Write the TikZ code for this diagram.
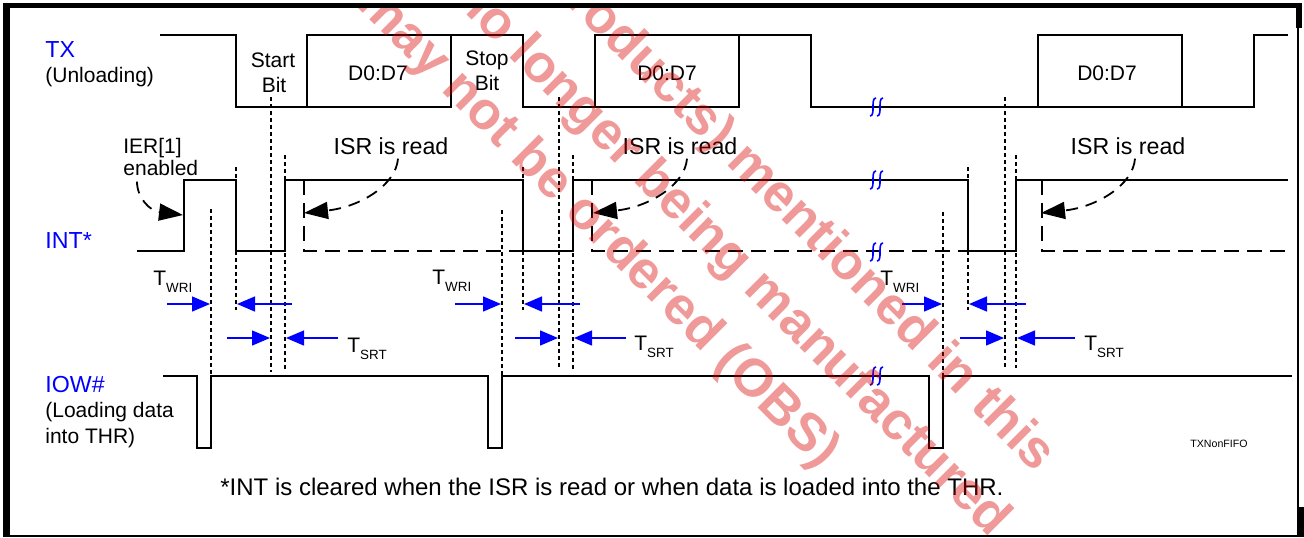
\documentclass[tikz,border=0pt]{standalone}
\usepackage{fontspec}
\setmainfont{Liberation Sans}
\usepackage{tikz}
\usetikzlibrary{arrows.meta,calc}
\usepackage{xcolor}
\definecolor{wmred}{RGB}{217,0,0}
\newcommand\tsub[1]{T\raisebox{-3.5pt}{\fontsize{6.7}{8}\selectfont #1}}

\begin{document}
\begin{tikzpicture}[
	x=0.5pt, y=-0.5pt,
	wave/.style={line width=1pt},
	guide/.style={line width=0.7pt, dash pattern=on 2pt off 1.5pt},
	cleared/.style={line width=1pt, dash pattern=on 7.5pt off 4pt},
	note/.style={line width=0.9pt, dash pattern=on 6pt off 4pt,
		-{Triangle[length=12pt,width=8.5pt]}},
	tm/.style={blue, line width=0.7pt, -{Triangle[length=9pt,width=7.5pt]}},
	txt/.style={inner sep=0, font=\fontsize{10.5}{12}\selectfont},
	sig/.style={inner sep=0, text=blue, font=\fontsize{11.6}{13}\selectfont},
	brk/.style={blue, line width=0.8pt},
	wm/.style={inner sep=0, rotate=-45, text=wmred, text opacity=0.4,
		font=\fontsize{26.5}{30}\selectfont\bfseries}
	]

	\useasboundingbox (0,0) rectangle (1304,537);

	% frame
	\fill (3,3) rectangle (10,537);
	\fill (3,3) rectangle (1302,8);
	\fill (1296,3) rectangle (1302,28);
	\fill (1297,507) rectangle (1304,537);
	\draw[line width=1pt] (10,536) -- (1297,536) (1297.5,28) -- (1297.5,507);

	% signal names
	\node[sig, anchor=base west] (tx) at (45,57) {TX};
	\node[txt, anchor=base west] (txnote) at (45,82) {(Unloading)};
	\node[sig, anchor=base west] (int) at (45,248) {INT*};
	\node[sig, anchor=base west] (iow) at (45,392) {IOW\#};
	\node[txt, anchor=base west] (iownoteA) at (45,417) {(Loading data};
	\node[txt, anchor=base west] (iownoteB) at (45,443) {into THR)};

	% TX
	\draw[wave] (160,35) -| (236,107) -| (307,35) -| (523,107) -| (595,35)
		-| (811,107) -| (1038,35) -| (1182,107) -| (1254,35) -- (1288,35);
	\draw[wave] (307,107) -- (451,107) -- (451,35)
		(595,107) -- (739,107) -- (739,35) (1038,107) -- (1182,107);
	\node[txt, anchor=base] (startA) at (273,67) {Start};
	\node[txt, anchor=base] (startB) at (274,92) {Bit};
	\node[txt, anchor=base] (stopA) at (487,65) {Stop};
	\node[txt, anchor=base] (stopB) at (487,90) {Bit};
	\node[txt, anchor=base] (byteA) at (378,80) {D0:D7};
	\node[txt, anchor=base] (byteB) at (667,80) {D0:D7};
	\node[txt, anchor=base] (byteC) at (1107,80) {D0:D7};

	% INT
	\draw[wave] (137,251) -| (184,180) -| (236,251) -| (285,180) -| (523,251)
		-| (573,180) -| (968,251) -| (1016,180) -- (1288,180);
	\draw[cleared] (304,180) |- (523,251) (592,180) |- (968,251) (1042,180) |- (1288,251);

	\node[txt, anchor=base west] (ierA) at (123,153) {IER[1]};
	\node[txt, anchor=base west] (ierB) at (123,175) {enabled};
	\coordinate (iertip) at (183,215);
	\draw[note] ($(ierB.south west)+(14,6)$) .. controls (137,198) and (150,211) .. (iertip);

	\foreach \n/\x in {A/391,B/680,C/1128}{
		\node[txt, font=\fontsize{11.6}{13}\selectfont, anchor=base] (isr\n) at (\x,154) {ISR is read};
		\coordinate (isrtip\n) at (\x-87,213);
		\draw[note] ($(isr\n.south)+(7,4)$) .. controls (\x+5,185) and (\x-31,207) .. (isrtip\n);
	}

	% IOW#
	\draw[wave] (163,376) -| (197,448) -| (211,376) -| (488,448) -| (502,376)
		-| (929,448) -| (943,376) -- (1292,376);

	% guides
	\draw[guide] (211,209) -- (211,380) (236,167) -- (236,310)
		(271,97) -- (271,372) (285,155) -- (285,372);
	\draw[guide] (502,210) -- (502,380) (523,167) -- (523,310)
		(559,97) -- (559,369) (573,155) -- (573,369);
	\draw[guide] (943,212) -- (943,392) (968,167) -- (968,310)
		(1005,97) -- (1005,368) (1016,155) -- (1016,368);

	% timing
	\draw[tm] (167,304) -- (210,304);
	\draw[tm] (292,304) -- (237,304);
	\draw[tm] (227,338) -- (270,338);
	\draw[tm] (338,338) -- (286,338);
	\draw[tm] (455,304) -- (501,304);
	\draw[tm] (580,304) -- (524,304);
	\draw[tm] (515,338) -- (558,338);
	\draw[tm] (626,338) -- (574,338);
	\draw[tm] (902,304) -- (942,304);
	\draw[tm] (1026,304) -- (969,304);
	\draw[tm] (960,338) -- (1004,338);
	\draw[tm] (1075,338) -- (1017,338);

	\node[txt, anchor=base west] (twriA) at (153,285) {\tsub{WRI}};
	\node[txt, anchor=base west] (twriB) at (432,284) {\tsub{WRI}};
	\node[txt, anchor=base west] (twriC) at (880,285) {\tsub{WRI}};
	\node[txt, anchor=base west] (tsrtA) at (347,352) {\tsub{SRT}};
	\node[txt, anchor=base west] (tsrtB) at (634,350) {\tsub{SRT}};
	\node[txt, anchor=base west] (tsrtC) at (1084,350) {\tsub{SRT}};

	% breaks
	\foreach \y in {107,180,252,376}
		\draw[brk] (870,\y+9) .. controls (876,\y+9) and (870,\y-9) .. (876,\y-9)
			(877,\y+9) .. controls (883,\y+9) and (877,\y-9) .. (883,\y-9);

	\node[txt, font=\fontsize{12}{14}\selectfont, anchor=base west] (foot) at (220,495)
		{*INT is cleared when the ISR is read or when data is loaded into the THR.};
	\node[inner sep=0, font=\fontsize{5.3}{6}\selectfont, anchor=base west] (figname) at (1190,447) {TXNonFIFO};

	% watermark
	\begin{scope}
		\clip (10,8) rectangle (1297,536);
		\node[wm, anchor=base east] (wmA) at (820,470) {a may not be ordered (OBS)};
		\node[wm, anchor=base east] (wmB) at (991,539) {e no longer being manufactured};
		\node[wm, anchor=base east] (wmC) at (1036,474) {products) mentioned in this};
	\end{scope}
\end{tikzpicture}
\end{document}
